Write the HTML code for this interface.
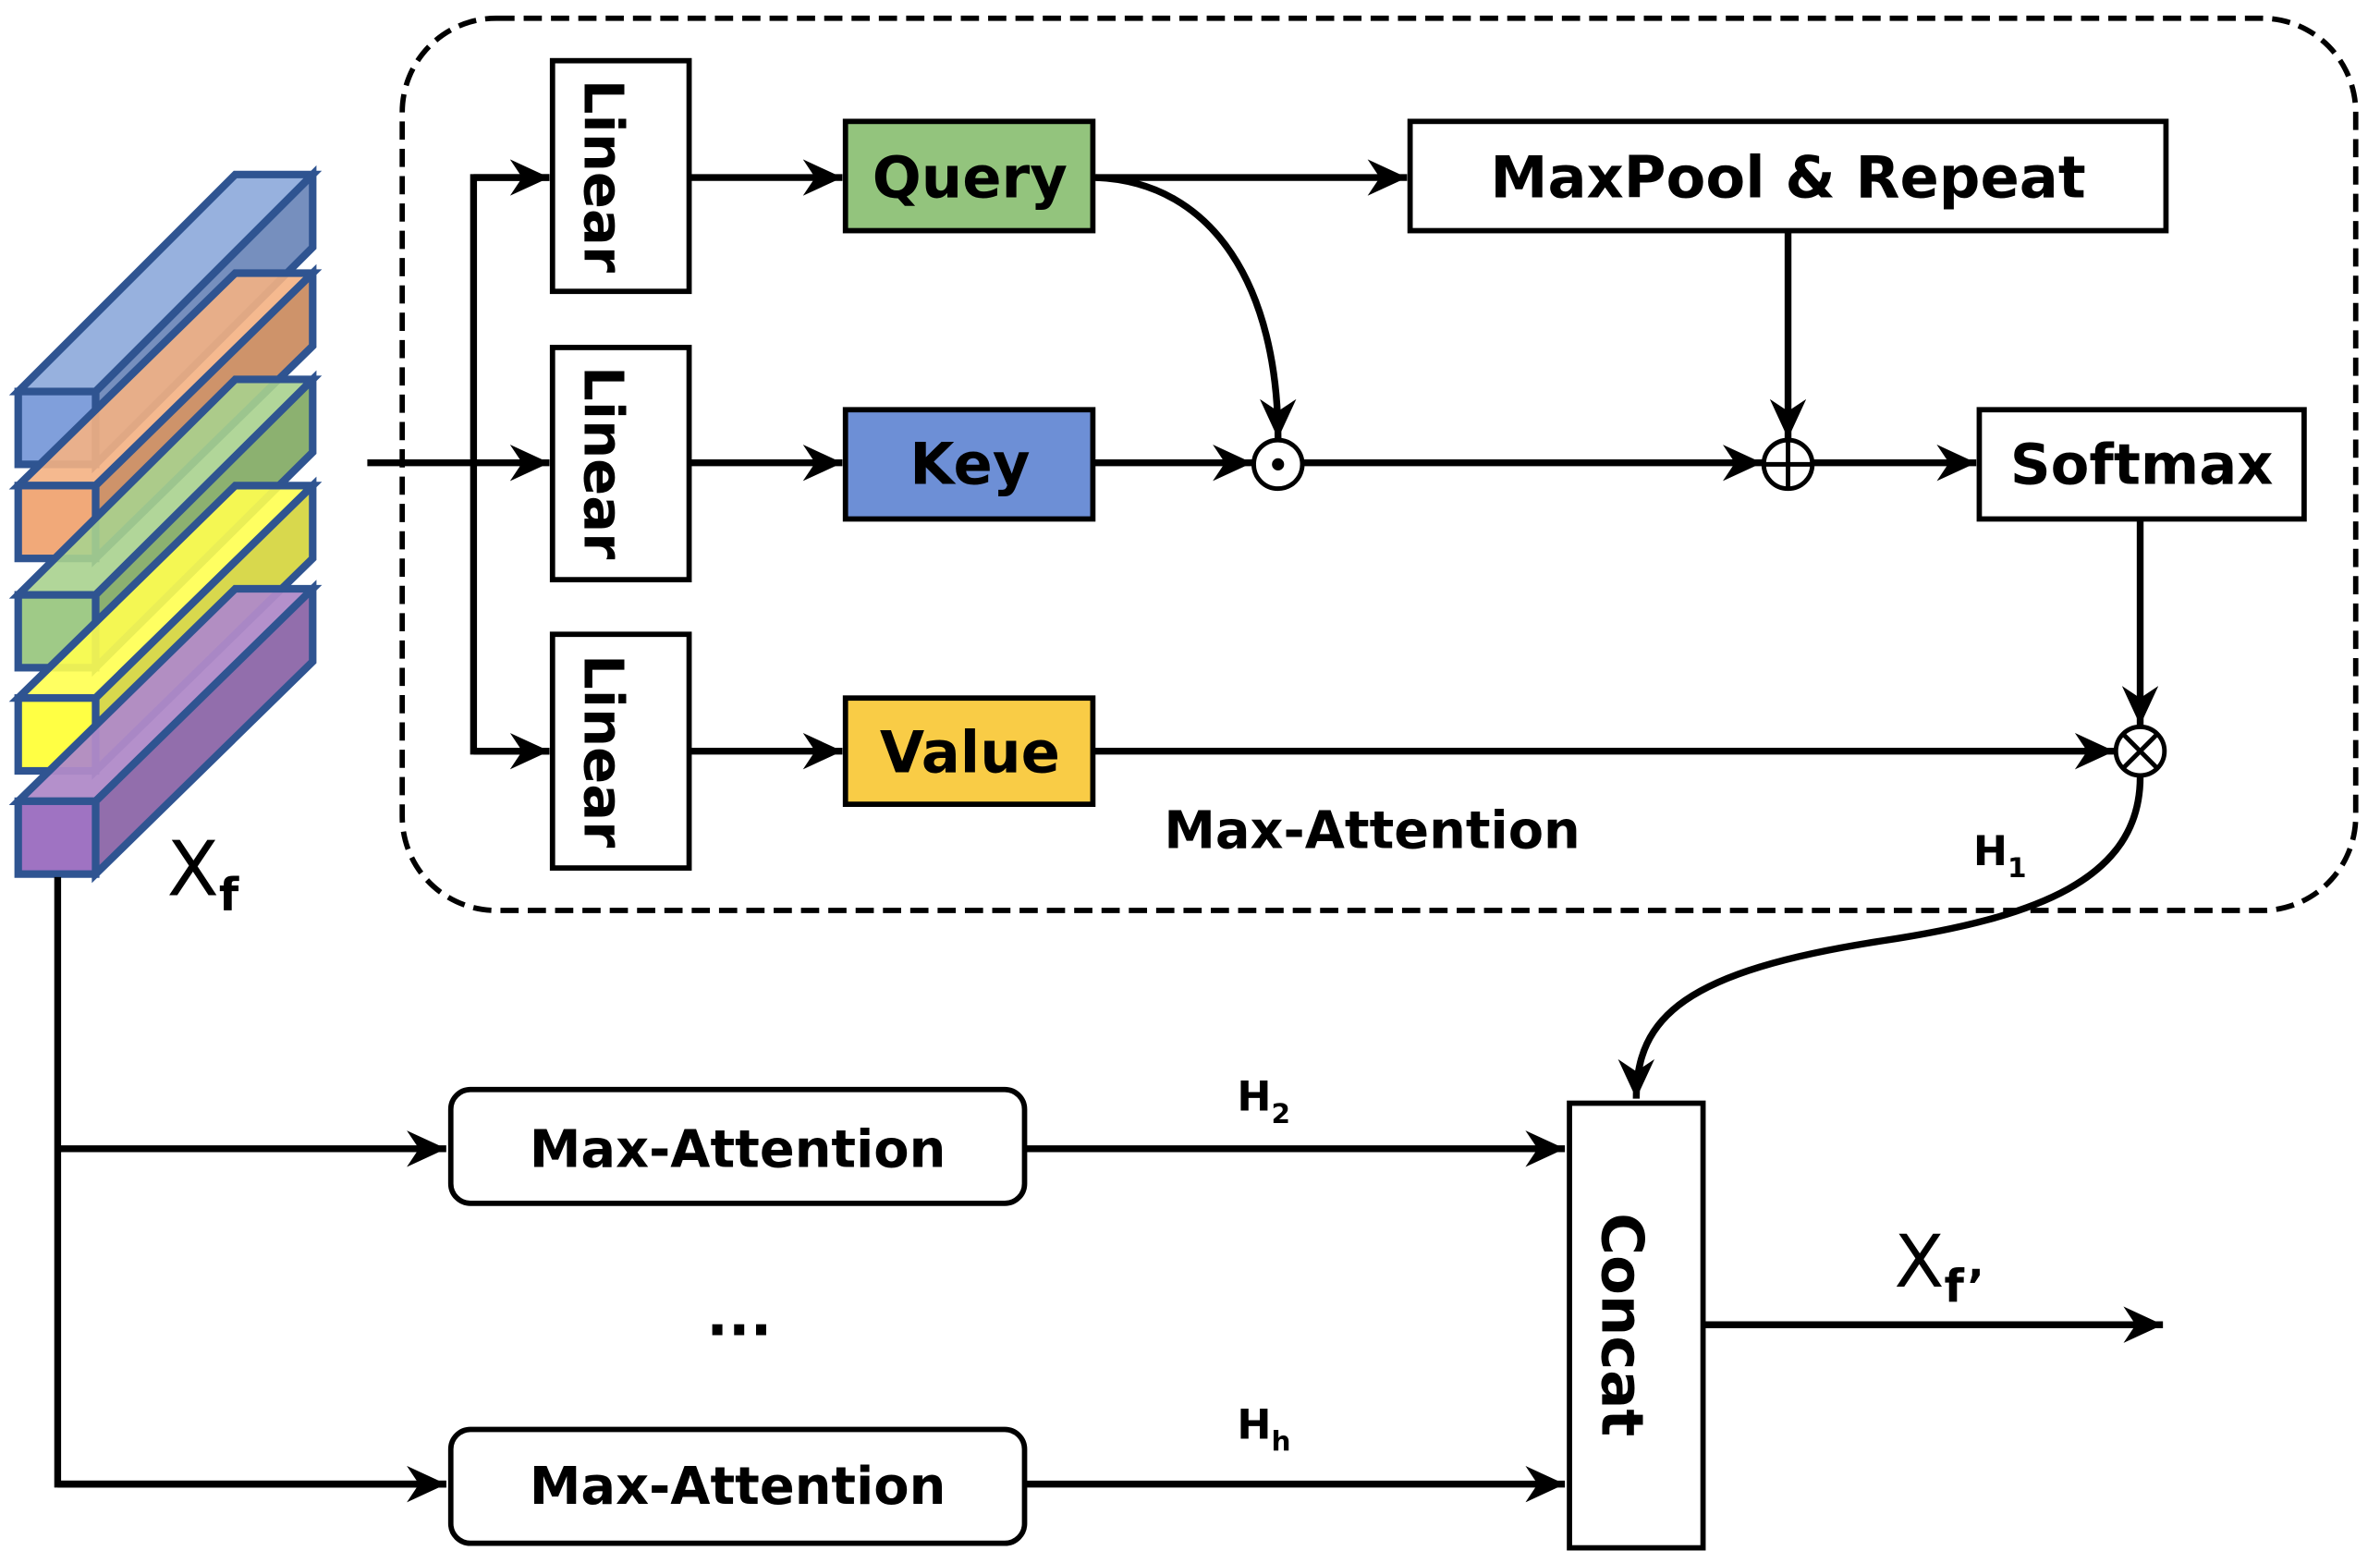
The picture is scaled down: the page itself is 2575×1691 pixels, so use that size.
<!DOCTYPE html>
<html><head><meta charset="utf-8"><style>
html,body{margin:0;padding:0;background:#fff;}
svg{display:block;}
text{font-family:"DejaVu Sans","Liberation Sans",sans-serif;fill:#000;}
</style></head><body>
<svg width="2575" height="1691" viewBox="0 0 1568 1030" preserveAspectRatio="none" xmlns="http://www.w3.org/2000/svg">
<defs>
<marker id="b" markerWidth="28" markerHeight="24" refX="26" refY="12" orient="auto" markerUnits="userSpaceOnUse">
<path d="M0,0 L26,12 L0,24 L8,12 z" fill="#000"/>
</marker>
</defs>
<rect x="0" y="0" width="1568" height="1030" fill="#fff"/>
<rect x="265" y="12" width="1287" height="588" rx="62" fill="none" stroke="#000" stroke-width="3.5" stroke-dasharray="12,6"/>

<g stroke="#2f5491" stroke-width="5" stroke-linejoin="miter">
<g fill-opacity="0.92">
<polygon points="12,258 63,258 206,115 155,115" fill="#8eaadb"/>
<polygon points="63,258 206,115 206,163 63,306" fill="#6a86b8"/>
<rect x="12" y="258" width="51" height="48" fill="#7597d8"/>
</g>
<g fill-opacity="0.9">
<polygon points="12,320 63,320 206,180 155,180" fill="#f4b183"/>
<polygon points="63,320 206,180 206,228 63,368" fill="#c9875a"/>
<rect x="12" y="320" width="51" height="48" fill="#f0a06a"/>
</g>
<g fill-opacity="0.9">
<polygon points="12,392 63,392 206,250 155,250" fill="#a9d18e"/>
<polygon points="63,392 206,250 206,298 63,440" fill="#7fa860"/>
<rect x="12" y="392" width="51" height="48" fill="#95c47a"/>
</g>
<g fill-opacity="0.9">
<polygon points="12,460 63,460 206,320 155,320" fill="#ffff50"/>
<polygon points="63,460 206,320 206,368 63,508" fill="#d4d43a"/>
<rect x="12" y="460" width="51" height="48" fill="#ffff30"/>
</g>
<g fill-opacity="0.95">
<polygon points="12,528 63,528 206,388 155,388" fill="#b08ac8"/>
<polygon points="63,528 206,388 206,436 63,576" fill="#8c66a8"/>
<rect x="12" y="528" width="51" height="48" fill="#9a6cbf"/>
</g>
</g>
<text x="110" y="590" font-size="50">X<tspan font-size="30" dy="10" font-weight="bold">f</tspan></text>

<g stroke="#000" stroke-width="4.5" fill="none">
<line x1="242" y1="305" x2="362" y2="305" marker-end="url(#b)"/>
<polyline points="362,117 312,117 312,495 362,495" />
<line x1="312" y1="117" x2="362" y2="117" marker-end="url(#b)"/>
<line x1="312" y1="495" x2="362" y2="495" marker-end="url(#b)"/>
<rect x="364" y="40" width="90" height="152" fill="#fff" stroke-width="3.5"/>
<rect x="364" y="229" width="90" height="153" fill="#fff" stroke-width="3.5"/>
<rect x="364" y="418" width="90" height="154" fill="#fff" stroke-width="3.5"/>
<line x1="454" y1="117" x2="555" y2="117" marker-end="url(#b)"/>
<line x1="454" y1="305" x2="555" y2="305" marker-end="url(#b)"/>
<line x1="454" y1="495" x2="555" y2="495" marker-end="url(#b)"/>
<rect x="557" y="80" width="163" height="72" fill="#93c47d" stroke-width="3.5"/>
<rect x="557" y="270" width="163" height="72" fill="#6d8fd6" stroke-width="3.5"/>
<rect x="557" y="460" width="163" height="70" fill="#f9cc46" stroke-width="3.5"/>
<line x1="720" y1="117" x2="927" y2="117" marker-end="url(#b)"/>
<rect x="929" y="80" width="498" height="72" fill="#fff" stroke-width="3.5"/>
<path d="M722,117 C800,120 842,190 842,289" marker-end="url(#b)"/>
<line x1="720" y1="305" x2="825" y2="305" marker-end="url(#b)"/>
<line x1="858" y1="305" x2="1161" y2="305" marker-end="url(#b)"/>
<line x1="1178" y1="152" x2="1178" y2="289" marker-end="url(#b)"/>
<line x1="1195" y1="305" x2="1302" y2="305" marker-end="url(#b)"/>
<rect x="1304" y="270" width="214" height="72" fill="#fff" stroke-width="3.5"/>
<line x1="1410" y1="342" x2="1410" y2="478" marker-end="url(#b)"/>
<line x1="720" y1="495" x2="1393" y2="495" marker-end="url(#b)"/>
<path d="M1410,512 C1410,580 1340,605 1240,620 C1110,640 1078,670 1078,724" marker-end="url(#b)"/>
<circle cx="842" cy="306" r="16" fill="#fff" stroke-width="3"/>
<circle cx="842" cy="306" r="4" fill="#000" stroke="none"/>
<circle cx="1178" cy="306" r="16" fill="#fff" stroke-width="3"/>
<line x1="1162" y1="306" x2="1194" y2="306" stroke-width="3"/>
<line x1="1178" y1="290" x2="1178" y2="322" stroke-width="3"/>
<circle cx="1410" cy="495" r="16" fill="#fff" stroke-width="3"/>
<line x1="1399" y1="484" x2="1421" y2="506" stroke-width="3"/>
<line x1="1421" y1="484" x2="1399" y2="506" stroke-width="3"/>
<polyline points="38,578 38,978 294,978"/>
<line x1="38" y1="757" x2="294" y2="757" marker-end="url(#b)"/>
<line x1="38" y1="978" x2="294" y2="978" marker-end="url(#b)"/>
<rect x="297" y="718" width="378" height="75" rx="13" fill="#fff" stroke-width="3.5"/>
<rect x="297" y="942" width="378" height="75" rx="13" fill="#fff" stroke-width="3.5"/>
<line x1="675" y1="757" x2="1031" y2="757" marker-end="url(#b)"/>
<line x1="675" y1="978" x2="1031" y2="978" marker-end="url(#b)"/>
<rect x="1034" y="727" width="88" height="293" fill="#fff" stroke-width="3.5"/>
<line x1="1122" y1="873" x2="1425" y2="873" marker-end="url(#b)"/>
</g>

<g font-size="36" text-anchor="middle" font-weight="bold">
<text transform="translate(395,116) rotate(90)" dominant-baseline="middle">Linear</text>
<text transform="translate(395,305) rotate(90)" dominant-baseline="middle">Linear</text>
<text transform="translate(395,495) rotate(90)" dominant-baseline="middle">Linear</text>
<text x="639" y="130" font-size="38">Query</text>
<text x="639" y="319" font-size="38">Key</text>
<text x="639" y="509" font-size="38">Value</text>
<text x="1178" y="130" font-size="38">MaxPool &amp; Repeat</text>
<text x="1411" y="319" font-size="37">Softmax</text>
<text x="904" y="559" font-size="34">Max-Attention</text>
<text x="486" y="769" font-size="34">Max-Attention</text>
<text x="486" y="991" font-size="34">Max-Attention</text>
<text x="487" y="880" font-size="38">...</text>
<text transform="translate(1066,873) rotate(90)" dominant-baseline="middle" font-size="38">Concat</text>
</g>
<g font-weight="bold">
<text x="1300" y="570" font-size="27">H<tspan font-size="18" dy="8">1</tspan></text>
<text x="815" y="732" font-size="27">H<tspan font-size="18" dy="8">2</tspan></text>
<text x="815" y="948" font-size="27">H<tspan font-size="18" dy="8">h</tspan></text>
</g>
<text x="1248" y="848" font-size="48">X<tspan font-size="30" dy="10" font-weight="bold">f’</tspan></text>
</svg>
</body></html>
